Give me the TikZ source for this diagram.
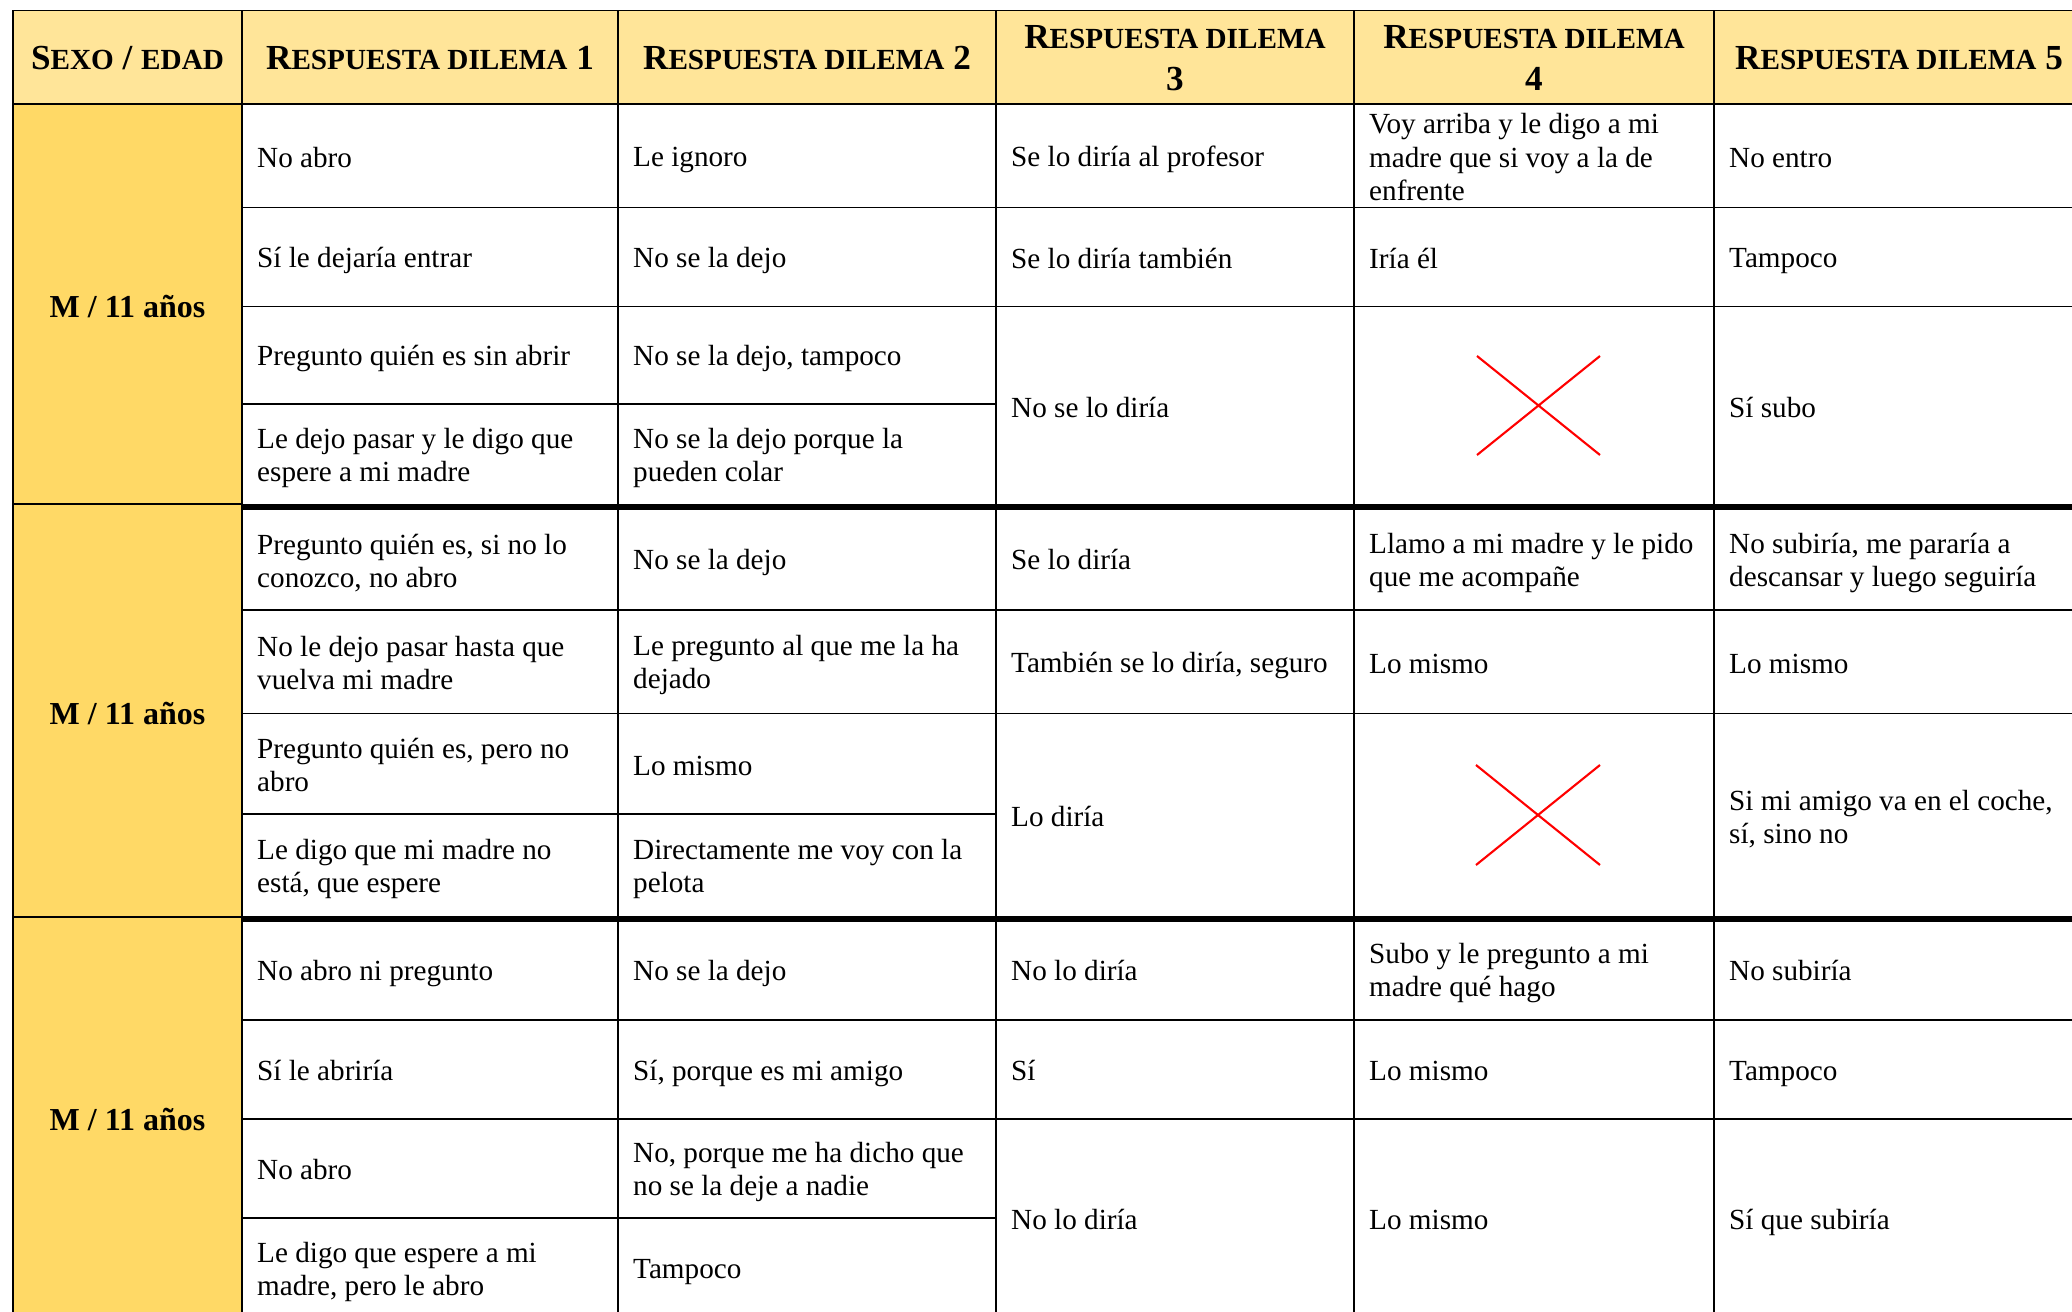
\documentclass[tikz,border=0pt]{standalone}
\usepackage{fontspec}
\setmainfont{Liberation Serif}
\definecolor{headfill}{HTML}{FFE599}
\definecolor{sidefill}{HTML}{FFD966}
\newcommand{\smc}[1]{{\fontsize{8.3pt}{12pt}\selectfont #1}}
\newcommand{\cellstrut}{\rule[-0.164em]{0pt}{1.107em}}
\begin{document}
\begin{tikzpicture}
[x=0.01cm,y=-0.01cm,
  celldecorate/.style={anchor=west,inner sep=0pt,align=left,font=\fontsize{8.3pt}{9.4pt}\selectfont,%
    execute at begin node=\cellstrut,execute at end node=\cellstrut},
  multidecorate/.style={celldecorate,yshift=-1pt},
  headdecorate/.style={inner sep=0pt,align=center,font=\bfseries\fontsize{10pt}{12pt}\selectfont},
  groupdecorate/.style={inner sep=0pt,font=\bfseries\fontsize{9.1pt}{11pt}\selectfont},
  linedecorate/.style={-,line width=0.5pt},
  thickdecorate/.style={-,line width=1.7pt},
  crossdecorate/.style={-,line width=0.6pt,red}]
\useasboundingbox (0,0) rectangle (2072,1312);
\clip (0,0) rectangle (2072,1312);
%%% table background
\fill[headfill] (13,10.5) rectangle (2084,104);
\fill[sidefill] (13,104) rectangle (242,1318);
%%% grid
% outer and vertical lines
\draw[linedecorate] (13,1318) -- (13,10.5) -- (2084,10.5);
\draw[linedecorate]
(242,10.5) -- (242,1318)
(618,10.5) -- (618,1318)
(996,10.5) -- (996,1318)
(1354,10.5) -- (1354,1318)
(1714,10.5) -- (1714,1318);
% horizontal lines
\draw[linedecorate]
(13,104) -- (2084,104)
(242,207.5) -- (2084,207.5)
(242,306.6) -- (2084,306.6)
(242,404) -- (996,404)
(13,504) -- (242,504)
(242,610) -- (2084,610)
(242,713.6) -- (2084,713.6)
(242,814) -- (996,814)
(13,917) -- (242,917)
(242,1020) -- (2084,1020)
(242,1119) -- (2084,1119)
(242,1218) -- (996,1218);
% group separators
\draw[thickdecorate]
(242,507) -- (2084,507)
(242,919) -- (2084,919);
%
%%% header
\node (hsex) at (127.5,58) [headdecorate] {S\smc{EXO} / \smc{EDAD}};
\node (hd1) at (430,58) [headdecorate] {R\smc{ESPUESTA DILEMA} 1};
\node (hd2) at (807,58) [headdecorate] {R\smc{ESPUESTA DILEMA} 2};
\node (hd3) at (1175,58) [headdecorate] {R\smc{ESPUESTA DILEMA}\\3};
\node (hd4) at (1534,58) [headdecorate] {R\smc{ESPUESTA DILEMA}\\4};
\node (hd5) at (1899,58) [headdecorate] {R\smc{ESPUESTA DILEMA} 5};
%
%%% group 1
\node (g1) at (127.5,306.3) [groupdecorate] {M / 11 años};
% cells
\node (a1) at (256.5,155.75) [celldecorate] {No abro};
\node (a2) at (256.5,257) [celldecorate] {Sí le dejaría entrar};
\node (a3) at (256.5,355.3) [celldecorate] {Pregunto quién es sin abrir};
\node (a4) at (256.5,454.5) [multidecorate] {Le dejo pasar y le digo que\\espere a mi madre};
\node (b1) at (632.5,155.75) [celldecorate] {Le ignoro};
\node (b2) at (632.5,257) [celldecorate] {No se la dejo};
\node (b3) at (632.5,355.3) [celldecorate] {No se la dejo, tampoco};
\node (b4) at (632.5,454.5) [multidecorate] {No se la dejo porque la\\pueden colar};
\node (c1) at (1010.5,155.75) [celldecorate] {Se lo diría al profesor};
\node (c2) at (1010.5,257) [celldecorate] {Se lo diría también};
\node (c3) at (1010.5,405.8) [celldecorate] {No se lo diría};
\node (d1) at (1368.5,155.75) [multidecorate] {Voy arriba y le digo a mi\\madre que si voy a la de\\enfrente};
\node (d2) at (1368.5,257) [celldecorate] {Iría él};
\node (e1) at (1728.5,155.75) [celldecorate] {No entro};
\node (e2) at (1728.5,257) [celldecorate] {Tampoco};
\node (e3) at (1728.5,405.8) [celldecorate] {Sí subo};
\draw[crossdecorate] (1477,356) -- (1600,455) (1477,455) -- (1600,356);
%
%%% group 2
\node (g2) at (127.5,713.3) [groupdecorate] {M / 11 años};
% cells
\node (a5) at (256.5,559.5) [multidecorate] {Pregunto quién es, si no lo\\conozco, no abro};
\node (a6) at (256.5,661.8) [multidecorate] {No le dejo pasar hasta que\\vuelva mi madre};
\node (a7) at (256.5,763.8) [multidecorate] {Pregunto quién es, pero no\\abro};
\node (a8) at (256.5,865.5) [multidecorate] {Le digo que mi madre no\\está, que espere};
\node (b5) at (632.5,558.5) [celldecorate] {No se la dejo};
\node (b6) at (632.5,661.8) [multidecorate] {Le pregunto al que me la ha\\dejado};
\node (b7) at (632.5,763.8) [celldecorate] {Lo mismo};
\node (b8) at (632.5,865.5) [multidecorate] {Directamente me voy con la\\pelota};
\node (c5) at (1010.5,558.5) [celldecorate] {Se lo diría};
\node (c6) at (1010.5,661.8) [celldecorate] {También se lo diría, seguro};
\node (c7) at (1010.5,815.3) [celldecorate] {Lo diría};
\node (d5) at (1368.5,559.5) [multidecorate] {Llamo a mi madre y le pido\\que me acompañe};
\node (d6) at (1368.5,661.8) [celldecorate] {Lo mismo};
\node (e5) at (1728.5,559.5) [multidecorate] {No subiría, me pararía a\\descansar y luego seguiría};
\node (e6) at (1728.5,661.8) [celldecorate] {Lo mismo};
\node (e7) at (1728.5,815.3) [multidecorate] {Si mi amigo va en el coche,\\sí, sino no};
\draw[crossdecorate] (1476,765) -- (1600,865) (1476,865) -- (1600,765);
%
%%% group 3
\node (g3) at (127.5,1119.3) [groupdecorate] {M / 11 años};
% cells
\node (a9) at (256.5,969.5) [celldecorate] {No abro ni pregunto};
\node (a10) at (256.5,1069.5) [celldecorate] {Sí le abriría};
\node (a11) at (256.5,1168.5) [celldecorate] {No abro};
\node (a12) at (256.5,1268) [multidecorate] {Le digo que espere a mi\\madre, pero le abro};
\node (b9) at (632.5,969.5) [celldecorate] {No se la dejo};
\node (b10) at (632.5,1069.5) [celldecorate] {Sí, porque es mi amigo};
\node (b11) at (632.5,1168.5) [multidecorate] {No, porque me ha dicho que\\no se la deje a nadie};
\node (b12) at (632.5,1268) [celldecorate] {Tampoco};
\node (c9) at (1010.5,969.5) [celldecorate] {No lo diría};
\node (c10) at (1010.5,1069.5) [celldecorate] {Sí};
\node (c11) at (1010.5,1218.5) [celldecorate] {No lo diría};
\node (d9) at (1368.5,969.5) [multidecorate] {Subo y le pregunto a mi\\madre qué hago};
\node (d10) at (1368.5,1069.5) [celldecorate] {Lo mismo};
\node (d11) at (1368.5,1218.5) [celldecorate] {Lo mismo};
\node (e9) at (1728.5,969.5) [celldecorate] {No subiría};
\node (e10) at (1728.5,1069.5) [celldecorate] {Tampoco};
\node (e11) at (1728.5,1218.5) [celldecorate] {Sí que subiría};
\end{tikzpicture}
\end{document}
